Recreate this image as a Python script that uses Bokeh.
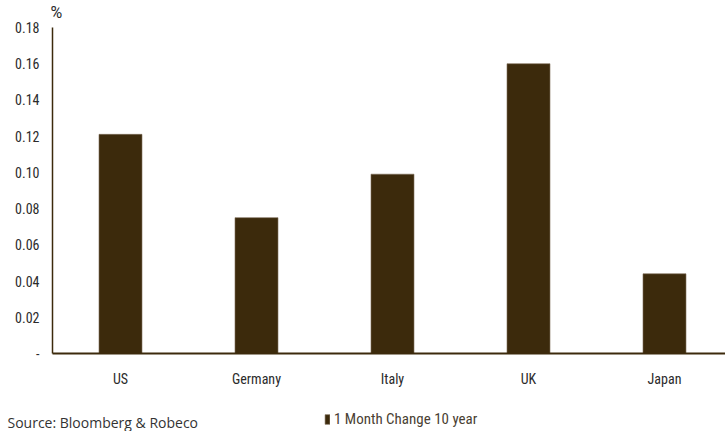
from bokeh.plotting import figure
from bokeh.models import ColumnDataSource, Range1d, FixedTicker, Legend, LegendItem, Label
from bokeh.embed import file_html
from bokeh.resources import INLINE

# 1 month change in 10-year government bond yields, in percentage points
countries = ["US", "Germany", "Italy", "UK", "Japan"]
change_10y = [0.121, 0.075, 0.099, 0.160, 0.044]
y_ticks = [0.0, 0.02, 0.04, 0.06, 0.08, 0.10, 0.12, 0.14, 0.16, 0.18]
series_name = "1 Month Change 10 year"
source_note = "Source: Bloomberg & Robeco"

BROWN = "#3c2a0c"
LABEL_FONT = "Roboto Condensed"
W, H = 725, 431

# pixel geometry of the plotting area inside the canvas
AX_LEFT, AX_TOP, AX_BOTTOM = 52, 27, 353
Y_MAX = 0.18
px_per_y = (AX_BOTTOM - AX_TOP) / Y_MAX
px_per_x = 136.0

positions = list(range(len(countries)))
src = ColumnDataSource(dict(x=positions, top=change_10y, name=countries))

x_start = -0.5 - AX_LEFT / px_per_x
x_end = -0.5 + (W - AX_LEFT) / px_per_x
y_start = -(H - AX_BOTTOM) / px_per_y
y_end = Y_MAX + AX_TOP / px_per_y

p = figure(width=W, height=H, output_backend="svg", toolbar_location=None,
           x_range=Range1d(x_start, x_end), y_range=Range1d(y_start, y_end),
           min_border=0, outline_line_color=None)

bars = p.vbar(x="x", top="top", bottom=0, width=0.316, source=src,
              fill_color=BROWN, line_color="#7a6a55", line_width=0.6)

p.xgrid.grid_line_color = None
p.ygrid.grid_line_color = None

# y axis, pinned at the left edge of the bar area
p.yaxis.fixed_location = -0.5
p.yaxis.bounds = (0, Y_MAX)
p.yaxis.ticker = FixedTicker(ticks=y_ticks)
p.yaxis.major_label_overrides = {t: ("-" if t == 0 else f"{t:.2f}") for t in y_ticks}
p.yaxis.axis_line_color = BROWN
p.yaxis.axis_line_width = 1.5
p.yaxis.major_tick_line_color = None
p.yaxis.major_tick_out = 0
p.yaxis.major_tick_in = 0
p.yaxis.minor_tick_line_color = None
p.yaxis.major_label_text_font = LABEL_FONT
p.yaxis.major_label_text_font_size = "14px"
p.yaxis.major_label_text_color = "#2b2b2b"
p.yaxis.major_label_standoff = 13

# x axis, pinned at zero
p.xaxis.fixed_location = 0
p.xaxis.bounds = (-0.5, x_end)
p.xaxis.ticker = FixedTicker(ticks=positions)
p.xaxis.major_label_overrides = {i: c for i, c in zip(positions, countries)}
p.xaxis.axis_line_color = BROWN
p.xaxis.axis_line_width = 2.2
p.xaxis.major_tick_line_color = None
p.xaxis.major_tick_out = 0
p.xaxis.major_tick_in = 0
p.xaxis.minor_tick_line_color = None
p.xaxis.major_label_text_font = LABEL_FONT
p.xaxis.major_label_text_font_size = "14px"
p.xaxis.major_label_text_color = "#2b2b2b"
p.xaxis.major_label_standoff = 17

# unit label above the y axis
p.add_layout(Label(x=AX_LEFT - 2, y=H - 2, x_units="screen", y_units="screen",
                   text="%", text_font="Roboto", text_font_size="16px",
                   text_color="#2b2b2b", text_baseline="top", text_align="left"))

# series legend under the axis
legend = Legend(items=[LegendItem(label=series_name, renderers=[bars])],
                location=(324, 3), orientation="horizontal",
                glyph_width=6, glyph_height=12, label_standoff=4,
                padding=0, margin=0, spacing=0,
                border_line_color=None, background_fill_alpha=0,
                label_text_font=LABEL_FONT, label_text_font_size="15px",
                label_text_color="#4a3f33", label_height=14)
p.add_layout(legend)

# source note at the bottom left
p.add_layout(Label(x=7, y=H - 412, x_units="screen", y_units="screen",
                   text=source_note, text_font="Open Sans", text_font_size="14px",
                   text_color="#333333", text_baseline="top", text_align="left"))

open("out.html", "w").write(file_html(p, INLINE))
